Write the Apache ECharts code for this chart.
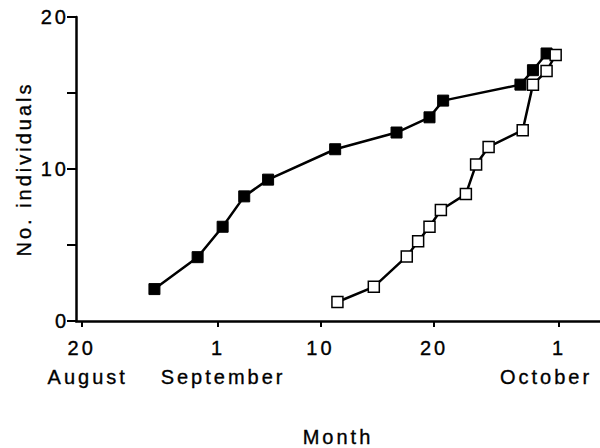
<!DOCTYPE html>
<html>
<head>
<meta charset="utf-8">
<script src="https://cdn.jsdelivr.net/npm/echarts@6/dist/echarts.min.js"></script>
<style>
html,body{margin:0;padding:0;background:#fff;}
#c{width:600px;height:448px;}
#c svg text{letter-spacing:3px;}
</style>
</head>
<body>
<div id="c"></div>
<script>
// x values: days after 31 July
const tickDays = [20, 32, 41, 51, 62];
const tickLabels = ['20', '1', '10', '20', '1'];
const tickMonths = ['August', 'September', '', '', 'October'];
const yTicks = [0, 5, 10, 15, 20];
const yLabels = ['0', '', '10', '', '20'];

const filledDays = [26.4, 30.2, 32.4, 34.3, 36.4, 42.3, 47.7, 50.6, 51.8, 58.6, 59.7, 60.9];
const filledCounts = [2.1, 4.2, 6.2, 8.2, 9.3, 11.3, 12.4, 13.4, 14.5, 15.55, 16.5, 17.6];
const openDays = [42.5, 45.7, 48.6, 49.6, 50.6, 51.6, 53.8, 54.7, 55.8, 58.8, 59.7, 60.9, 61.7];
const openCounts = [1.25, 2.25, 4.25, 5.25, 6.2, 7.3, 8.35, 10.3, 11.45, 12.55, 15.55, 16.45, 17.5];

const FONT = '"Liberation Sans", Arial, sans-serif';
const txt = {fontFamily: FONT, fontSize: 20, color: '#000', textBorderColor: '#000', textBorderWidth: 0.35};
const tok = (pad) => Object.assign({lineHeight: 29, padding: pad}, txt);
const monthStyle = {August: 'aug', September: 'sep', October: 'oct'};

const chart = echarts.init(document.getElementById('c'), null, {renderer: 'svg'});
chart.setOption({
  backgroundColor: '#fff',
  animation: false,
  grid: {left: 76, right: 0, top: 17, bottom: 127, containLabel: false, outerBoundsMode: 'none'},
  xAxis: {
    type: 'value', min: 19.5, max: 65.6,
    name: 'Month', nameLocation: 'middle', nameGap: 106,
    nameTextStyle: txt,
    axisLine: {show: true, lineStyle: {color: '#000', width: 2.5}},
    axisTick: {show: true, customValues: tickDays, length: 6, lineStyle: {color: '#000', width: 2}},
    axisLabel: Object.assign({
      customValues: tickDays, margin: 12, lineHeight: 29,
      formatter: function (v) {
        const i = tickDays.indexOf(v);
        if (i < 0) return '';
        const m = tickMonths[i];
        return '{n|' + tickLabels[i] + '}' + (m ? '\n{' + monthStyle[m] + '|' + m + '}' : '');
      },
      rich: {
        n: tok([0, 0, 0, 0]),
        aug: tok([0, 0, 0, 12]),
        sep: tok([0, 0, 0, 10]),
        oct: tok([0, 26, 0, 0])
      }
    }, txt),
    splitLine: {show: false}
  },
  yAxis: {
    type: 'value', min: 0, max: 20, interval: 5,
    name: 'No. individuals', nameLocation: 'middle', nameGap: 42, nameRotate: 90,
    nameTextStyle: txt,
    axisLine: {show: true, lineStyle: {color: '#000', width: 2.5}},
    axisTick: {show: true, length: 9, lineStyle: {color: '#000', width: 2}},
    axisLabel: Object.assign({
      margin: 7,
      formatter: function (v) { const i = yTicks.indexOf(v); return i >= 0 ? yLabels[i] : ''; }
    }, txt),
    splitLine: {show: false}
  },
  series: [
    {
      type: 'line', data: filledDays.map((d, i) => [d, filledCounts[i]]),
      symbol: 'rect', symbolSize: 11, z: 2,
      lineStyle: {color: '#000', width: 2.5},
      itemStyle: {color: '#000', borderColor: '#000', borderWidth: 1}
    },
    {
      type: 'line', data: openDays.map((d, i) => [d, openCounts[i]]),
      symbol: 'rect', symbolSize: 11, z: 3,
      lineStyle: {color: '#000', width: 2.5},
      itemStyle: {color: '#fff', borderColor: '#000', borderWidth: 1.5}
    }
  ]
});
</script>
</body>
</html>
